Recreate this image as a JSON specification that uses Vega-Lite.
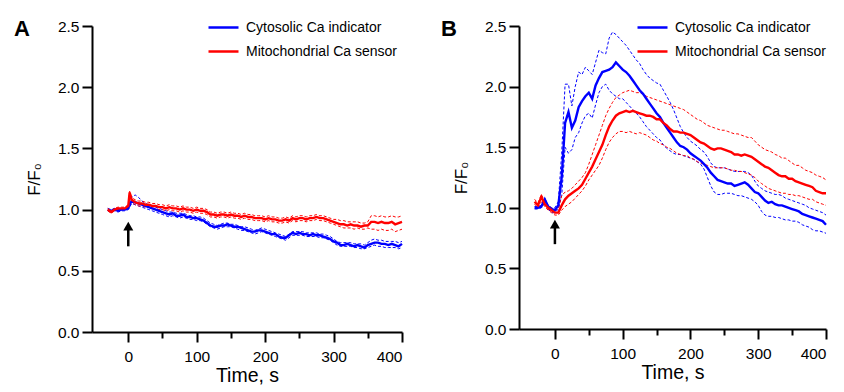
{
  "$schema": "https://vega.github.io/schema/vega-lite/v6.json",
  "padding": {"left": 13, "top": 11, "right": 0, "bottom": 0},
  "config": {
    "font": "Liberation Sans",
    "view": {"stroke": null},
    "axis": {"grid": false, "domainColor": "#000", "domainWidth": 2, "tickColor": "#000", "tickWidth": 2, "tickSize": 10, "labelColor": "#000", "labelFontSize": 15.5, "titleColor": "#000", "titleFontWeight": "normal", "titleFontSize": 19.5, "labelFont": "Liberation Sans", "titleFont": "Liberation Sans"},
    "legend": {"padding": 0, "labelFontSize": 14, "labelColor": "#000", "labelFont": "Liberation Sans", "symbolType": "stroke", "symbolStrokeWidth": 2.5, "symbolSize": 900, "labelOffset": 6, "rowPadding": -8}
  },
  "datasets": {
    "A": [
      {"t":-30,"cm":1.00,"cu":1.01,"cl":0.99,"mm":1.00,"mu":1.01,"ml":0.99},
      {"t":-25,"cm":0.99,"cu":1.00,"cl":0.98,"mm":0.98,"mu":0.99,"ml":0.97},
      {"t":-20,"cm":1.00,"cu":1.01,"cl":0.99,"mm":1.00,"mu":1.01,"ml":0.99},
      {"t":-15,"cm":0.99,"cu":1.00,"cl":0.98,"mm":1.01,"mu":1.02,"ml":1.00},
      {"t":-10,"cm":1.00,"cu":1.01,"cl":0.99,"mm":1.01,"mu":1.02,"ml":1.00},
      {"t":-5,"cm":1.00,"cu":1.01,"cl":0.99,"mm":1.01,"mu":1.02,"ml":1.00},
      {"t":0,"cm":1.01,"cu":1.02,"cl":1.00,"mm":1.03,"mu":1.04,"ml":1.02},
      {"t":2,"cm":1.04,"cu":1.06,"cl":1.02,"mm":1.14,"mu":1.15,"ml":1.12},
      {"t":5,"cm":1.07,"cu":1.10,"cl":1.05,"mm":1.08,"mu":1.10,"ml":1.06},
      {"t":10,"cm":1.06,"cu":1.12,"cl":1.04,"mm":1.06,"mu":1.08,"ml":1.04},
      {"t":15,"cm":1.05,"cu":1.10,"cl":1.03,"mm":1.05,"mu":1.07,"ml":1.03},
      {"t":20,"cm":1.04,"cu":1.07,"cl":1.02,"mm":1.05,"mu":1.07,"ml":1.03},
      {"t":25,"cm":1.03,"cu":1.05,"cl":1.01,"mm":1.04,"mu":1.06,"ml":1.02},
      {"t":30,"cm":1.02,"cu":1.04,"cl":1.00,"mm":1.04,"mu":1.06,"ml":1.02},
      {"t":35,"cm":1.01,"cu":1.03,"cl":0.99,"mm":1.03,"mu":1.05,"ml":1.01},
      {"t":40,"cm":1.00,"cu":1.02,"cl":0.98,"mm":1.03,"mu":1.05,"ml":1.01},
      {"t":45,"cm":0.99,"cu":1.01,"cl":0.97,"mm":1.02,"mu":1.04,"ml":1.00},
      {"t":50,"cm":0.98,"cu":1.00,"cl":0.96,"mm":1.02,"mu":1.04,"ml":1.00},
      {"t":55,"cm":0.97,"cu":0.99,"cl":0.95,"mm":1.01,"mu":1.03,"ml":0.99},
      {"t":60,"cm":0.96,"cu":0.98,"cl":0.94,"mm":1.02,"mu":1.04,"ml":1.00},
      {"t":65,"cm":0.97,"cu":0.98,"cl":0.95,"mm":1.01,"mu":1.03,"ml":0.99},
      {"t":70,"cm":0.95,"cu":0.97,"cl":0.94,"mm":1.01,"mu":1.03,"ml":0.99},
      {"t":75,"cm":0.95,"cu":0.97,"cl":0.93,"mm":1.00,"mu":1.02,"ml":0.98},
      {"t":80,"cm":0.96,"cu":0.97,"cl":0.94,"mm":1.01,"mu":1.03,"ml":0.99},
      {"t":85,"cm":0.94,"cu":0.96,"cl":0.93,"mm":1.00,"mu":1.02,"ml":0.98},
      {"t":90,"cm":0.94,"cu":0.95,"cl":0.92,"mm":1.00,"mu":1.02,"ml":0.98},
      {"t":95,"cm":0.93,"cu":0.95,"cl":0.92,"mm":0.99,"mu":1.01,"ml":0.97},
      {"t":100,"cm":0.93,"cu":0.94,"cl":0.91,"mm":1.00,"mu":1.02,"ml":0.98},
      {"t":105,"cm":0.92,"cu":0.94,"cl":0.91,"mm":0.99,"mu":1.01,"ml":0.97},
      {"t":110,"cm":0.91,"cu":0.93,"cl":0.90,"mm":0.99,"mu":1.01,"ml":0.97},
      {"t":115,"cm":0.89,"cu":0.91,"cl":0.88,"mm":0.98,"mu":1.00,"ml":0.96},
      {"t":120,"cm":0.87,"cu":0.89,"cl":0.86,"mm":0.96,"mu":0.98,"ml":0.94},
      {"t":125,"cm":0.86,"cu":0.88,"cl":0.85,"mm":0.96,"mu":0.98,"ml":0.94},
      {"t":130,"cm":0.86,"cu":0.87,"cl":0.84,"mm":0.95,"mu":0.97,"ml":0.93},
      {"t":135,"cm":0.87,"cu":0.88,"cl":0.85,"mm":0.96,"mu":0.98,"ml":0.94},
      {"t":140,"cm":0.87,"cu":0.89,"cl":0.86,"mm":0.96,"mu":0.98,"ml":0.94},
      {"t":145,"cm":0.88,"cu":0.89,"cl":0.86,"mm":0.95,"mu":0.97,"ml":0.93},
      {"t":150,"cm":0.87,"cu":0.88,"cl":0.86,"mm":0.96,"mu":0.98,"ml":0.94},
      {"t":155,"cm":0.86,"cu":0.88,"cl":0.85,"mm":0.95,"mu":0.97,"ml":0.93},
      {"t":160,"cm":0.86,"cu":0.87,"cl":0.84,"mm":0.95,"mu":0.97,"ml":0.93},
      {"t":165,"cm":0.85,"cu":0.86,"cl":0.83,"mm":0.94,"mu":0.96,"ml":0.92},
      {"t":170,"cm":0.84,"cu":0.86,"cl":0.83,"mm":0.95,"mu":0.97,"ml":0.93},
      {"t":175,"cm":0.83,"cu":0.85,"cl":0.82,"mm":0.94,"mu":0.96,"ml":0.92},
      {"t":180,"cm":0.82,"cu":0.84,"cl":0.81,"mm":0.94,"mu":0.96,"ml":0.92},
      {"t":185,"cm":0.82,"cu":0.83,"cl":0.80,"mm":0.93,"mu":0.95,"ml":0.91},
      {"t":190,"cm":0.83,"cu":0.84,"cl":0.81,"mm":0.93,"mu":0.95,"ml":0.91},
      {"t":195,"cm":0.83,"cu":0.85,"cl":0.82,"mm":0.93,"mu":0.95,"ml":0.91},
      {"t":200,"cm":0.82,"cu":0.84,"cl":0.81,"mm":0.92,"mu":0.94,"ml":0.90},
      {"t":205,"cm":0.81,"cu":0.83,"cl":0.80,"mm":0.93,"mu":0.95,"ml":0.91},
      {"t":210,"cm":0.80,"cu":0.82,"cl":0.79,"mm":0.92,"mu":0.94,"ml":0.90},
      {"t":215,"cm":0.80,"cu":0.81,"cl":0.78,"mm":0.92,"mu":0.94,"ml":0.90},
      {"t":220,"cm":0.78,"cu":0.80,"cl":0.77,"mm":0.91,"mu":0.93,"ml":0.89},
      {"t":225,"cm":0.77,"cu":0.79,"cl":0.76,"mm":0.91,"mu":0.93,"ml":0.89},
      {"t":230,"cm":0.77,"cu":0.78,"cl":0.75,"mm":0.92,"mu":0.94,"ml":0.90},
      {"t":235,"cm":0.79,"cu":0.80,"cl":0.77,"mm":0.91,"mu":0.93,"ml":0.89},
      {"t":240,"cm":0.81,"cu":0.82,"cl":0.79,"mm":0.93,"mu":0.95,"ml":0.91},
      {"t":245,"cm":0.80,"cu":0.82,"cl":0.79,"mm":0.92,"mu":0.94,"ml":0.90},
      {"t":250,"cm":0.81,"cu":0.82,"cl":0.79,"mm":0.93,"mu":0.95,"ml":0.91},
      {"t":255,"cm":0.80,"cu":0.82,"cl":0.79,"mm":0.93,"mu":0.95,"ml":0.91},
      {"t":260,"cm":0.80,"cu":0.81,"cl":0.78,"mm":0.92,"mu":0.94,"ml":0.90},
      {"t":265,"cm":0.79,"cu":0.81,"cl":0.78,"mm":0.93,"mu":0.95,"ml":0.91},
      {"t":270,"cm":0.80,"cu":0.81,"cl":0.78,"mm":0.93,"mu":0.95,"ml":0.91},
      {"t":275,"cm":0.79,"cu":0.81,"cl":0.78,"mm":0.94,"mu":0.96,"ml":0.92},
      {"t":280,"cm":0.79,"cu":0.80,"cl":0.77,"mm":0.93,"mu":0.95,"ml":0.91},
      {"t":285,"cm":0.78,"cu":0.80,"cl":0.77,"mm":0.93,"mu":0.95,"ml":0.91},
      {"t":290,"cm":0.77,"cu":0.79,"cl":0.76,"mm":0.92,"mu":0.94,"ml":0.90},
      {"t":295,"cm":0.76,"cu":0.78,"cl":0.75,"mm":0.91,"mu":0.93,"ml":0.89},
      {"t":300,"cm":0.74,"cu":0.76,"cl":0.73,"mm":0.90,"mu":0.92,"ml":0.88},
      {"t":305,"cm":0.73,"cu":0.74,"cl":0.71,"mm":0.89,"mu":0.92,"ml":0.87},
      {"t":310,"cm":0.71,"cu":0.73,"cl":0.70,"mm":0.88,"mu":0.91,"ml":0.86},
      {"t":315,"cm":0.71,"cu":0.73,"cl":0.70,"mm":0.88,"mu":0.91,"ml":0.85},
      {"t":320,"cm":0.72,"cu":0.73,"cl":0.70,"mm":0.87,"mu":0.90,"ml":0.85},
      {"t":325,"cm":0.71,"cu":0.73,"cl":0.70,"mm":0.88,"mu":0.90,"ml":0.85},
      {"t":330,"cm":0.70,"cu":0.72,"cl":0.69,"mm":0.87,"mu":0.90,"ml":0.84},
      {"t":335,"cm":0.71,"cu":0.72,"cl":0.69,"mm":0.87,"mu":0.90,"ml":0.85},
      {"t":340,"cm":0.70,"cu":0.72,"cl":0.68,"mm":0.86,"mu":0.89,"ml":0.84},
      {"t":345,"cm":0.69,"cu":0.71,"cl":0.68,"mm":0.87,"mu":0.89,"ml":0.84},
      {"t":350,"cm":0.71,"cu":0.73,"cl":0.69,"mm":0.87,"mu":0.90,"ml":0.85},
      {"t":355,"cm":0.72,"cu":0.75,"cl":0.70,"mm":0.90,"mu":0.95,"ml":0.84},
      {"t":360,"cm":0.73,"cu":0.76,"cl":0.71,"mm":0.90,"mu":0.95,"ml":0.84},
      {"t":365,"cm":0.73,"cu":0.75,"cl":0.70,"mm":0.89,"mu":0.94,"ml":0.83},
      {"t":370,"cm":0.72,"cu":0.75,"cl":0.70,"mm":0.90,"mu":0.95,"ml":0.84},
      {"t":375,"cm":0.72,"cu":0.74,"cl":0.69,"mm":0.89,"mu":0.94,"ml":0.83},
      {"t":380,"cm":0.71,"cu":0.74,"cl":0.69,"mm":0.89,"mu":0.94,"ml":0.83},
      {"t":385,"cm":0.72,"cu":0.74,"cl":0.69,"mm":0.90,"mu":0.95,"ml":0.84},
      {"t":390,"cm":0.71,"cu":0.74,"cl":0.69,"mm":0.88,"mu":0.94,"ml":0.82},
      {"t":395,"cm":0.70,"cu":0.73,"cl":0.68,"mm":0.89,"mu":0.94,"ml":0.83},
      {"t":400,"cm":0.72,"cu":0.74,"cl":0.69,"mm":0.90,"mu":0.95,"ml":0.84}
    ],
    "B": [
      {"t":-30,"cm":1.00,"cu":1.01,"cl":0.99,"mm":1.05,"mu":1.07,"ml":1.03},
      {"t":-25,"cm":1.00,"cu":1.01,"cl":0.99,"mm":1.02,"mu":1.04,"ml":1.00},
      {"t":-20,"cm":1.01,"cu":1.02,"cl":1.00,"mm":1.09,"mu":1.11,"ml":1.05},
      {"t":-15,"cm":1.07,"cu":1.08,"cl":1.04,"mm":1.03,"mu":1.05,"ml":1.01},
      {"t":-10,"cm":1.01,"cu":1.02,"cl":0.99,"mm":1.00,"mu":1.02,"ml":0.98},
      {"t":-5,"cm":0.99,"cu":1.00,"cl":0.96,"mm":0.98,"mu":1.00,"ml":0.96},
      {"t":0,"cm":0.98,"cu":1.00,"cl":0.96,"mm":0.96,"mu":0.98,"ml":0.94},
      {"t":5,"cm":1.02,"cu":1.05,"cl":0.99,"mm":0.96,"mu":0.99,"ml":0.94},
      {"t":10,"cm":1.25,"cu":1.45,"cl":1.10,"mm":1.02,"mu":1.10,"ml":0.98},
      {"t":15,"cm":1.70,"cu":2.02,"cl":1.50,"mm":1.07,"mu":1.13,"ml":1.01},
      {"t":20,"cm":1.79,"cu":2.02,"cl":1.45,"mm":1.10,"mu":1.14,"ml":1.03},
      {"t":25,"cm":1.66,"cu":1.84,"cl":1.48,"mm":1.12,"mu":1.16,"ml":1.05},
      {"t":30,"cm":1.72,"cu":2.00,"cl":1.58,"mm":1.14,"mu":1.19,"ml":1.08},
      {"t":35,"cm":1.83,"cu":2.12,"cl":1.62,"mm":1.16,"mu":1.22,"ml":1.11},
      {"t":40,"cm":1.88,"cu":2.10,"cl":1.70,"mm":1.19,"mu":1.25,"ml":1.14},
      {"t":45,"cm":1.92,"cu":2.16,"cl":1.76,"mm":1.24,"mu":1.29,"ml":1.18},
      {"t":50,"cm":1.95,"cu":2.13,"cl":1.78,"mm":1.29,"mu":1.36,"ml":1.23},
      {"t":55,"cm":1.90,"cu":2.10,"cl":1.74,"mm":1.34,"mu":1.44,"ml":1.27},
      {"t":60,"cm":2.01,"cu":2.20,"cl":1.85,"mm":1.40,"mu":1.52,"ml":1.31},
      {"t":65,"cm":2.07,"cu":2.30,"cl":1.95,"mm":1.46,"mu":1.60,"ml":1.35},
      {"t":70,"cm":2.12,"cu":2.28,"cl":2.00,"mm":1.52,"mu":1.68,"ml":1.41},
      {"t":75,"cm":2.13,"cu":2.27,"cl":2.02,"mm":1.60,"mu":1.76,"ml":1.48},
      {"t":80,"cm":2.14,"cu":2.40,"cl":1.97,"mm":1.67,"mu":1.82,"ml":1.54},
      {"t":85,"cm":2.16,"cu":2.45,"cl":1.94,"mm":1.72,"mu":1.87,"ml":1.58},
      {"t":90,"cm":2.20,"cu":2.43,"cl":1.92,"mm":1.76,"mu":1.91,"ml":1.61},
      {"t":95,"cm":2.17,"cu":2.40,"cl":1.90,"mm":1.78,"mu":1.93,"ml":1.63},
      {"t":100,"cm":2.14,"cu":2.37,"cl":1.90,"mm":1.79,"mu":1.95,"ml":1.63},
      {"t":105,"cm":2.12,"cu":2.34,"cl":1.87,"mm":1.80,"mu":1.96,"ml":1.62},
      {"t":110,"cm":2.09,"cu":2.30,"cl":1.84,"mm":1.79,"mu":1.97,"ml":1.63},
      {"t":115,"cm":2.05,"cu":2.26,"cl":1.81,"mm":1.80,"mu":1.96,"ml":1.62},
      {"t":120,"cm":2.01,"cu":2.22,"cl":1.78,"mm":1.79,"mu":1.95,"ml":1.61},
      {"t":125,"cm":1.97,"cu":2.19,"cl":1.75,"mm":1.78,"mu":1.95,"ml":1.62},
      {"t":130,"cm":1.94,"cu":2.14,"cl":1.71,"mm":1.77,"mu":1.94,"ml":1.61},
      {"t":135,"cm":1.90,"cu":2.10,"cl":1.67,"mm":1.76,"mu":1.92,"ml":1.60},
      {"t":140,"cm":1.86,"cu":2.07,"cl":1.64,"mm":1.76,"mu":1.91,"ml":1.58},
      {"t":145,"cm":1.82,"cu":2.05,"cl":1.61,"mm":1.75,"mu":1.90,"ml":1.56},
      {"t":150,"cm":1.78,"cu":2.03,"cl":1.58,"mm":1.73,"mu":1.89,"ml":1.55},
      {"t":155,"cm":1.75,"cu":2.02,"cl":1.56,"mm":1.73,"mu":1.88,"ml":1.53},
      {"t":160,"cm":1.70,"cu":1.97,"cl":1.52,"mm":1.70,"mu":1.87,"ml":1.52},
      {"t":165,"cm":1.66,"cu":1.92,"cl":1.49,"mm":1.68,"mu":1.86,"ml":1.50},
      {"t":170,"cm":1.62,"cu":1.87,"cl":1.47,"mm":1.65,"mu":1.85,"ml":1.49},
      {"t":175,"cm":1.58,"cu":1.81,"cl":1.45,"mm":1.63,"mu":1.84,"ml":1.47},
      {"t":180,"cm":1.54,"cu":1.74,"cl":1.44,"mm":1.63,"mu":1.83,"ml":1.45},
      {"t":185,"cm":1.51,"cu":1.67,"cl":1.44,"mm":1.62,"mu":1.82,"ml":1.44},
      {"t":190,"cm":1.50,"cu":1.62,"cl":1.43,"mm":1.62,"mu":1.81,"ml":1.43},
      {"t":195,"cm":1.48,"cu":1.58,"cl":1.42,"mm":1.61,"mu":1.79,"ml":1.43},
      {"t":200,"cm":1.45,"cu":1.55,"cl":1.41,"mm":1.60,"mu":1.77,"ml":1.41},
      {"t":205,"cm":1.43,"cu":1.53,"cl":1.40,"mm":1.58,"mu":1.75,"ml":1.40},
      {"t":210,"cm":1.41,"cu":1.51,"cl":1.38,"mm":1.56,"mu":1.73,"ml":1.38},
      {"t":215,"cm":1.39,"cu":1.48,"cl":1.36,"mm":1.54,"mu":1.72,"ml":1.37},
      {"t":220,"cm":1.36,"cu":1.46,"cl":1.32,"mm":1.53,"mu":1.70,"ml":1.36},
      {"t":225,"cm":1.33,"cu":1.42,"cl":1.25,"mm":1.51,"mu":1.68,"ml":1.35},
      {"t":230,"cm":1.29,"cu":1.37,"cl":1.18,"mm":1.49,"mu":1.67,"ml":1.34},
      {"t":235,"cm":1.26,"cu":1.34,"cl":1.13,"mm":1.48,"mu":1.66,"ml":1.33},
      {"t":240,"cm":1.23,"cu":1.33,"cl":1.11,"mm":1.49,"mu":1.65,"ml":1.33},
      {"t":245,"cm":1.22,"cu":1.33,"cl":1.11,"mm":1.49,"mu":1.64,"ml":1.33},
      {"t":250,"cm":1.21,"cu":1.33,"cl":1.12,"mm":1.48,"mu":1.64,"ml":1.33},
      {"t":255,"cm":1.20,"cu":1.32,"cl":1.12,"mm":1.47,"mu":1.63,"ml":1.32},
      {"t":260,"cm":1.20,"cu":1.31,"cl":1.12,"mm":1.46,"mu":1.62,"ml":1.31},
      {"t":265,"cm":1.18,"cu":1.30,"cl":1.11,"mm":1.44,"mu":1.61,"ml":1.31},
      {"t":270,"cm":1.19,"cu":1.30,"cl":1.10,"mm":1.44,"mu":1.61,"ml":1.30},
      {"t":275,"cm":1.20,"cu":1.30,"cl":1.10,"mm":1.43,"mu":1.60,"ml":1.30},
      {"t":280,"cm":1.21,"cu":1.30,"cl":1.09,"mm":1.44,"mu":1.59,"ml":1.29},
      {"t":285,"cm":1.19,"cu":1.29,"cl":1.08,"mm":1.43,"mu":1.58,"ml":1.28},
      {"t":290,"cm":1.16,"cu":1.27,"cl":1.07,"mm":1.42,"mu":1.58,"ml":1.27},
      {"t":295,"cm":1.13,"cu":1.22,"cl":1.05,"mm":1.40,"mu":1.55,"ml":1.25},
      {"t":300,"cm":1.12,"cu":1.18,"cl":1.02,"mm":1.38,"mu":1.52,"ml":1.22},
      {"t":305,"cm":1.09,"cu":1.16,"cl":0.97,"mm":1.36,"mu":1.50,"ml":1.20},
      {"t":310,"cm":1.06,"cu":1.14,"cl":0.94,"mm":1.34,"mu":1.48,"ml":1.18},
      {"t":315,"cm":1.04,"cu":1.13,"cl":0.93,"mm":1.33,"mu":1.47,"ml":1.16},
      {"t":320,"cm":1.05,"cu":1.12,"cl":0.93,"mm":1.31,"mu":1.46,"ml":1.15},
      {"t":325,"cm":1.03,"cu":1.11,"cl":0.92,"mm":1.29,"mu":1.44,"ml":1.14},
      {"t":330,"cm":1.02,"cu":1.11,"cl":0.92,"mm":1.27,"mu":1.43,"ml":1.13},
      {"t":335,"cm":1.02,"cu":1.10,"cl":0.91,"mm":1.26,"mu":1.41,"ml":1.12},
      {"t":340,"cm":1.01,"cu":1.08,"cl":0.90,"mm":1.26,"mu":1.41,"ml":1.12},
      {"t":345,"cm":1.00,"cu":1.07,"cl":0.90,"mm":1.24,"mu":1.39,"ml":1.11},
      {"t":350,"cm":0.99,"cu":1.06,"cl":0.89,"mm":1.24,"mu":1.37,"ml":1.11},
      {"t":355,"cm":0.98,"cu":1.05,"cl":0.89,"mm":1.22,"mu":1.35,"ml":1.10},
      {"t":360,"cm":0.97,"cu":1.04,"cl":0.88,"mm":1.21,"mu":1.35,"ml":1.10},
      {"t":365,"cm":0.95,"cu":1.03,"cl":0.86,"mm":1.20,"mu":1.33,"ml":1.09},
      {"t":370,"cm":0.94,"cu":1.02,"cl":0.85,"mm":1.19,"mu":1.31,"ml":1.08},
      {"t":375,"cm":0.93,"cu":1.00,"cl":0.84,"mm":1.18,"mu":1.30,"ml":1.07},
      {"t":380,"cm":0.92,"cu":0.99,"cl":0.82,"mm":1.17,"mu":1.29,"ml":1.07},
      {"t":385,"cm":0.91,"cu":0.98,"cl":0.81,"mm":1.14,"mu":1.27,"ml":1.05},
      {"t":390,"cm":0.90,"cu":0.97,"cl":0.81,"mm":1.13,"mu":1.26,"ml":1.04},
      {"t":395,"cm":0.89,"cu":0.96,"cl":0.80,"mm":1.12,"mu":1.25,"ml":1.03},
      {"t":400,"cm":0.86,"cu":0.94,"cl":0.79,"mm":1.12,"mu":1.23,"ml":1.02}
    ]
  },
  "spacing": 33,
  "resolve": {"scale": {"color": "independent"}, "legend": {"color": "independent"}},
  "hconcat": [
    {
      "width": 310, "height": 306,
      "title": {"text": "A", "anchor": "start", "frame": "bounds", "fontSize": 22, "fontWeight": "bold", "color": "#000", "offset": 0, "dy": 30, "dx": -11.5},
      "resolve": {"axis": {"x": "independent"}},
      "layer": [
        {
          "data": {"name": "A"},
          "transform": [{"fold": ["cu", "cl"]}],
          "mark": {"type": "line", "color": "#0000ff", "strokeWidth": 1, "strokeDash": [3, 2]},
          "encoding": {
            "x": {"field": "t", "type": "quantitative", "scale": {"domain": [-53, 400], "nice": false, "zero": false}, "axis": {"orient": "bottom", "values": [0, 100, 200, 300, 400], "title": "Time, s", "titlePadding": 2, "labelPadding": 7}},
            "y": {"field": "value", "type": "quantitative", "scale": {"domain": [0, 2.5], "nice": false}, "axis": {"values": [0, 0.5, 1, 1.5, 2, 2.5], "format": ".1f", "title": "F/F₀", "titleFontSize": 17, "labelPadding": 3, "titlePadding": 14}},
            "detail": {"field": "key"}
          }
        },
        {
          "data": {"name": "A"},
          "transform": [{"fold": ["mu", "ml"]}],
          "mark": {"type": "line", "color": "#ff0000", "strokeWidth": 1, "strokeDash": [3, 2]},
          "encoding": {
            "x": {"field": "t", "type": "quantitative", "axis": null},
            "y": {"field": "value", "type": "quantitative"},
            "detail": {"field": "key"}
          }
        },
        {
          "data": {"name": "A"},
          "transform": [{"fold": ["cm", "mm"]}],
          "mark": {"type": "line", "strokeWidth": 2.4},
          "encoding": {
            "x": {"field": "t", "type": "quantitative", "axis": null},
            "y": {"field": "value", "type": "quantitative"},
            "color": {"field": "key", "type": "nominal", "scale": {"domain": ["cm", "mm"], "range": ["#0000ff", "#ff0000"]}, "legend": {"title": null, "orient": "none", "legendX": 115, "legendY": -15, "labelExpr": "datum.value == 'cm' ? 'Cytosolic Ca indicator' : 'Mitochondrial Ca sensor'"}}
          }
        },
        {
          "data": {"values": [{}]},
          "mark": {"type": "rule", "color": "#000", "strokeWidth": 2.5},
          "encoding": {
            "x": {"datum": 0, "type": "quantitative", "axis": {"orient": "bottom", "values": [50, 150, 250, 350], "labels": false, "domain": false, "title": null, "tickSize": 6}},
            "y": {"datum": 0.70, "type": "quantitative"},
            "y2": {"datum": 0.85}
          }
        },
        {
          "data": {"values": [{}]},
          "mark": {"type": "point", "shape": "triangle-up", "filled": true, "opacity": 1, "size": 100, "color": "#000"},
          "encoding": {
            "x": {"datum": 0, "type": "quantitative", "axis": null},
            "y": {"datum": 0.865, "type": "quantitative"}
          }
        }
      ]
    },
    {
      "width": 307, "height": 303,
      "title": {"text": "B", "anchor": "start", "frame": "bounds", "fontSize": 22, "fontWeight": "bold", "color": "#000", "offset": 0, "dy": 30, "dx": -11.5},
      "resolve": {"axis": {"x": "independent"}},
      "layer": [
        {
          "data": {"name": "B"},
          "transform": [{"fold": ["cu", "cl"]}],
          "mark": {"type": "line", "color": "#0000ff", "strokeWidth": 1, "strokeDash": [3, 2]},
          "encoding": {
            "x": {"field": "t", "type": "quantitative", "scale": {"domain": [-53, 400], "nice": false, "zero": false}, "axis": {"orient": "bottom", "values": [0, 100, 200, 300, 400], "title": "Time, s", "titlePadding": 2, "labelPadding": 7}},
            "y": {"field": "value", "type": "quantitative", "scale": {"domain": [0, 2.5], "nice": false}, "axis": {"values": [0, 0.5, 1, 1.5, 2, 2.5], "format": ".1f", "title": "F/F₀", "titleFontSize": 17, "labelPadding": 3, "titlePadding": 14}},
            "detail": {"field": "key"}
          }
        },
        {
          "data": {"name": "B"},
          "transform": [{"fold": ["mu", "ml"]}],
          "mark": {"type": "line", "color": "#ff0000", "strokeWidth": 1, "strokeDash": [3, 2]},
          "encoding": {
            "x": {"field": "t", "type": "quantitative", "axis": null},
            "y": {"field": "value", "type": "quantitative"},
            "detail": {"field": "key"}
          }
        },
        {
          "data": {"name": "B"},
          "transform": [{"fold": ["cm", "mm"]}],
          "mark": {"type": "line", "strokeWidth": 2.4},
          "encoding": {
            "x": {"field": "t", "type": "quantitative", "axis": null},
            "y": {"field": "value", "type": "quantitative"},
            "color": {"field": "key", "type": "nominal", "scale": {"domain": ["cm", "mm"], "range": ["#0000ff", "#ff0000"]}, "legend": {"title": null, "orient": "none", "legendX": 117, "legendY": -15, "labelExpr": "datum.value == 'cm' ? 'Cytosolic Ca indicator' : 'Mitochondrial Ca sensor'"}}
          }
        },
        {
          "data": {"values": [{}]},
          "mark": {"type": "rule", "color": "#000", "strokeWidth": 2.5},
          "encoding": {
            "x": {"datum": 0, "type": "quantitative", "axis": {"orient": "bottom", "values": [50, 150, 250, 350], "labels": false, "domain": false, "title": null, "tickSize": 6}},
            "y": {"datum": 0.70, "type": "quantitative"},
            "y2": {"datum": 0.85}
          }
        },
        {
          "data": {"values": [{}]},
          "mark": {"type": "point", "shape": "triangle-up", "filled": true, "opacity": 1, "size": 100, "color": "#000"},
          "encoding": {
            "x": {"datum": 0, "type": "quantitative", "axis": null},
            "y": {"datum": 0.865, "type": "quantitative"}
          }
        }
      ]
    }
  ]
}
